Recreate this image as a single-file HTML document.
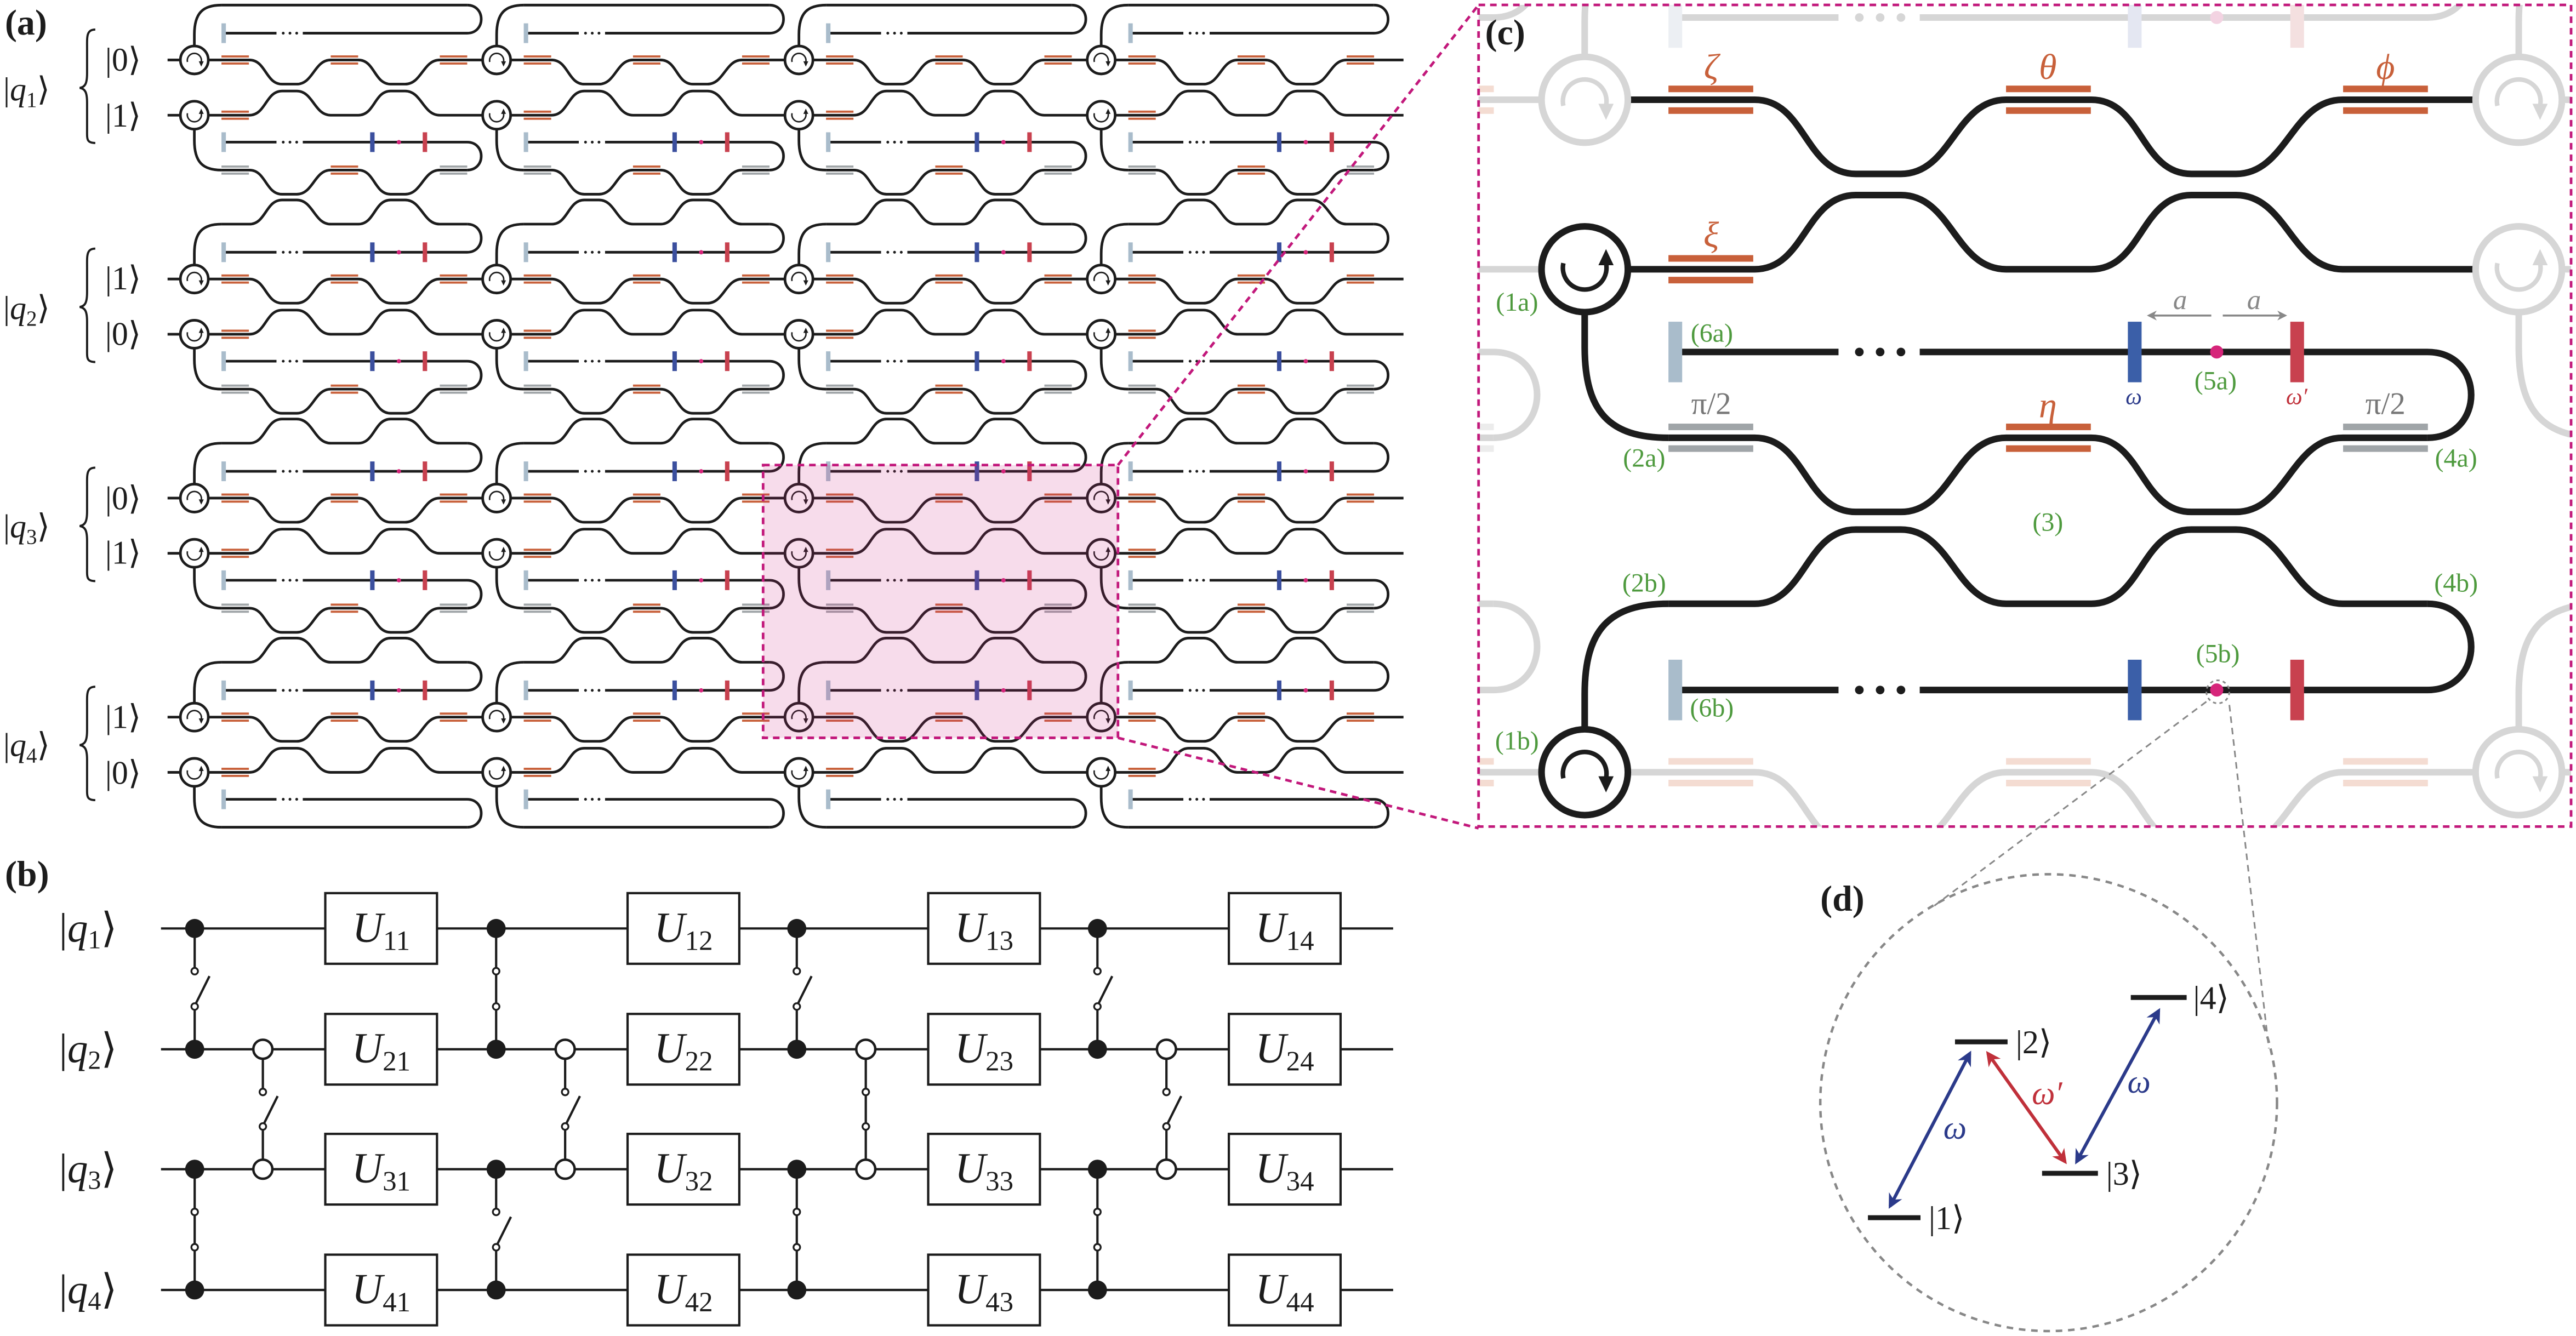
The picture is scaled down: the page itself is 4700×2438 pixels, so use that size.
<!DOCTYPE html>
<html><head><meta charset="utf-8"><style>
html,body{margin:0;padding:0;background:#fff}
svg{display:block}
.ln{fill:none;stroke:var(--ln)}
.or{fill:var(--or)}
.gr{fill:var(--gr)}
.mb{fill:var(--mb)}
.mbl{fill:var(--mbl)}
.mrd{fill:var(--mrd)}
.at{fill:var(--at)}
.dt{fill:var(--ln)}
.ci{fill:#fff;stroke:var(--ln)}
.ah{fill:var(--ln)}
text{font-family:"Liberation Serif","DejaVu Serif",serif}
</style></head><body>
<svg width="4700" height="2438" viewBox="0 0 1568 813" preserveAspectRatio="none" xmlns="http://www.w3.org/2000/svg">
<defs>
<path id="mziF" class="ln" d="M0 0H33.5C43.5 0 43.4 14.7 53.4 14.7H62.3C72.3 14.7 73 0 83 0H99.8C109.8 0 109.5 14.7 119.5 14.7H128.3C138.3 14.7 139.3 0 149.3 0H184"/>
<path id="mziI" class="ln" d="M16.5 0H33.5C43.5 0 43.4 14.7 53.4 14.7H62.3C72.3 14.7 73 0 83 0H99.8C109.8 0 109.5 14.7 119.5 14.7H128.3C138.3 14.7 139.3 0 149.3 0H166"/>
<g id="bO1"><rect class="or" x="16.5" y="-2.8" width="16.7" height="1.3"/><rect class="or" x="16.5" y="1.5" width="16.7" height="1.3"/></g>
<g id="bO2"><rect class="or" x="83" y="-2.8" width="16.7" height="1.3"/><rect class="or" x="83" y="1.5" width="16.7" height="1.3"/></g>
<g id="bO3"><rect class="or" x="149.4" y="-2.8" width="16.7" height="1.3"/><rect class="or" x="149.4" y="1.5" width="16.7" height="1.3"/></g>
<g id="bG1"><rect class="gr" x="16.5" y="-2.8" width="16.7" height="1.3"/><rect class="gr" x="16.5" y="1.5" width="16.7" height="1.3"/></g>
<g id="bG3"><rect class="gr" x="149.4" y="-2.8" width="16.7" height="1.3"/><rect class="gr" x="149.4" y="1.5" width="16.7" height="1.3"/></g>
<g id="row0"><use href="#mziF"/><use href="#bO1"/><use href="#bO2"/><use href="#bO3"/></g>
<g id="row1"><use href="#mziF" transform="translate(0,33.6) scale(1,-1)"/><use href="#bO1" transform="translate(0,33.6)"/></g>
<g id="upL"><path class="ln" d="M0 -8.5V-15.5C0 -28.4 5 -33.4 16.5 -33.4M166 -33.4C177.5 -33.4 177.5 -16.3 166 -16.3H66M50 -16.3H19"/>
<circle class="dt" cx="54.1" cy="-16.3" r=".85"/><circle class="dt" cx="58.2" cy="-16.3" r=".85"/><circle class="dt" cx="62.3" cy="-16.3" r=".85"/>
<rect class="mb" x="16.5" y="-22.3" width="2.7" height="12"/></g>
<g id="loL"><path class="ln" d="M0 42.1V49C0 62 5 67 16.5 67M166 67C177.5 67 177.5 50 166 50H66M50 50H19"/>
<circle class="dt" cx="54.1" cy="50" r=".85"/><circle class="dt" cx="58.2" cy="50" r=".85"/><circle class="dt" cx="62.3" cy="50" r=".85"/>
<rect class="mb" x="16.5" y="44" width="2.7" height="12"/></g>
<path id="topP" class="ln" d="M16.5 -33.4H166"/>
<g id="topB"><use href="#mziI" transform="translate(0,-33.4) scale(1,-1)"/></g>
<path id="grP" class="ln" d="M16.5 67H166"/>
<g id="grB"><use href="#mziI" transform="translate(0,67)"/><use href="#bG1" transform="translate(0,67)"/><use href="#bO2" transform="translate(0,67)"/><use href="#bG3" transform="translate(0,67)"/></g>
<g id="cavT"><rect class="mbl" x="107" y="-22.3" width="2.7" height="12"/><circle class="at" cx="124.5" cy="-16.3" r="1.3"/><rect class="mrd" x="139" y="-22.3" width="2.7" height="12"/></g>
<g id="cavB"><rect class="mbl" x="107" y="44" width="2.7" height="12"/><circle class="at" cx="124.5" cy="50" r="1.3"/><rect class="mrd" x="139" y="44" width="2.7" height="12"/></g>
<g id="c0"><circle class="ci" cx="0" cy="0" r="8.5"/><path class="ln" style="stroke-width:.9" d="M-4.2 1.2A4.3 4.3 0 1 1 4.2 1.2"/><polygon class="ah" points="2.7,0.8 5.7,0.8 4.2,4"/></g>
<g id="c1"><circle class="ci" cx="0" cy="33.6" r="8.5"/><path class="ln" style="stroke-width:.9" d="M-4.2 32.4A4.3 4.3 0 1 0 4.2 32.4"/><polygon class="ah" points="2.7,32.8 5.7,32.8 4.2,29.6"/></g>
<g id="G0"><use href="#row0"/><use href="#row1"/><use href="#upL"/><use href="#loL"/><use href="#topP"/><use href="#grB"/><use href="#cavB"/><use href="#c0"/><use href="#c1"/></g>
<g id="G1"><use href="#row0"/><use href="#row1"/><use href="#upL"/><use href="#loL"/><use href="#topB"/><use href="#grB"/><use href="#cavT"/><use href="#cavB"/><use href="#c0"/><use href="#c1"/></g>
<g id="G3"><use href="#row0"/><use href="#row1"/><use href="#upL"/><use href="#loL"/><use href="#topB"/><use href="#grP"/><use href="#cavT"/><use href="#c0"/><use href="#c1"/></g>
<marker id="mB" viewBox="0 0 10 10" refX="8" refY="5" markerWidth="9" markerHeight="9" markerUnits="userSpaceOnUse" orient="auto-start-reverse"><path d="M0 0L10 5L0 10L3 5z" fill="#2b3a8a"/></marker>
<marker id="mR" viewBox="0 0 10 10" refX="8" refY="5" markerWidth="9" markerHeight="9" markerUnits="userSpaceOnUse" orient="auto-start-reverse"><path d="M0 0L10 5L0 10L3 5z" fill="#c0303a"/></marker>
<marker id="mG" viewBox="0 0 10 10" refX="8" refY="5" markerWidth="6" markerHeight="6" markerUnits="userSpaceOnUse" orient="auto-start-reverse"><path d="M0 0L10 5L0 10L3 5z" fill="#888"/></marker>
<clipPath id="cc"><rect x="900" y="3" width="665" height="500"/></clipPath>
</defs>

<!-- ===== Panel (a) ===== -->
<g style="--ln:#1c1c1c;--or:#c8603a;--gr:#a0a5a8;--mb:#a9bccb;--mbl:#3b4f9e;--mrd:#c8414f;--at:#d6257a;stroke-width:1.6">
<path class="ln" d="M102 36.5H118.3M102 70.1H118.3M102 169.8H118.3M102 203.4H118.3M102 303.1H118.3M102 336.7H118.3M102 436.4H118.3M102 470H118.3"/>
<use href="#G0" transform="translate(118.3,36.5)"/><use href="#G1" transform="translate(118.3,169.8)"/><use href="#G1" transform="translate(118.3,303.1)"/><use href="#G3" transform="translate(118.3,436.4)"/>
<use href="#G0" transform="translate(302.3,36.5)"/><use href="#G1" transform="translate(302.3,169.8)"/><use href="#G1" transform="translate(302.3,303.1)"/><use href="#G3" transform="translate(302.3,436.4)"/>
<use href="#G0" transform="translate(486.3,36.5)"/><use href="#G1" transform="translate(486.3,169.8)"/><use href="#G1" transform="translate(486.3,303.1)"/><use href="#G3" transform="translate(486.3,436.4)"/>
<use href="#G0" transform="translate(670.3,36.5)"/><use href="#G1" transform="translate(670.3,169.8)"/><use href="#G1" transform="translate(670.3,303.1)"/><use href="#G3" transform="translate(670.3,436.4)"/>
</g>
<!-- braces -->
<g fill="none" stroke="#1c1c1c" stroke-width="1.3">
<path transform="translate(0,36.5)" d="M58 -18.5C52.5 -18.5 53 -14 53 -7V8C53 14 52 16.5 48.5 17C52 17.5 53 20 53 26V42C53 48 52.5 50.5 58 50.5"/>
<path transform="translate(0,169.8)" d="M58 -18.5C52.5 -18.5 53 -14 53 -7V8C53 14 52 16.5 48.5 17C52 17.5 53 20 53 26V42C53 48 52.5 50.5 58 50.5"/>
<path transform="translate(0,303.1)" d="M58 -18.5C52.5 -18.5 53 -14 53 -7V8C53 14 52 16.5 48.5 17C52 17.5 53 20 53 26V42C53 48 52.5 50.5 58 50.5"/>
<path transform="translate(0,436.4)" d="M58 -18.5C52.5 -18.5 53 -14 53 -7V8C53 14 52 16.5 48.5 17C52 17.5 53 20 53 26V42C53 48 52.5 50.5 58 50.5"/>
</g>
<g font-size="20" fill="#1c1c1c">
<text x="3" y="21" font-weight="bold" font-size="22">(a)</text>
<text x="64" y="43">|0⟩</text><text x="64" y="77">|1⟩</text>
<text x="64" y="176">|1⟩</text><text x="64" y="210">|0⟩</text>
<text x="64" y="310">|0⟩</text><text x="64" y="343">|1⟩</text>
<text x="64" y="443">|1⟩</text><text x="64" y="477">|0⟩</text>
<text x="2" y="61">|<tspan font-style="italic">q</tspan><tspan font-size="13" dy="4">1</tspan><tspan dy="-4">⟩</tspan></text>
<text x="2" y="194">|<tspan font-style="italic">q</tspan><tspan font-size="13" dy="4">2</tspan><tspan dy="-4">⟩</tspan></text>
<text x="2" y="327">|<tspan font-style="italic">q</tspan><tspan font-size="13" dy="4">3</tspan><tspan dy="-4">⟩</tspan></text>
<text x="2" y="460">|<tspan font-style="italic">q</tspan><tspan font-size="13" dy="4">4</tspan><tspan dy="-4">⟩</tspan></text>
</g>
<!-- pink highlight -->
<rect x="464.5" y="283" width="216" height="166" fill="rgba(205,40,130,0.16)" stroke="#c2187b" stroke-width="1.6" stroke-dasharray="4 3"/>
<path d="M680.5 283L900 3M680.5 449L900 504" stroke="#c2187b" stroke-width="1.6" stroke-dasharray="4 3" fill="none"/>

<!-- ===== Panel (c) ===== -->
<g clip-path="url(#cc)">
<g transform="translate(-538.07,-869.82) scale(3.09,3.07)">
<g style="--ln:#d6d6d6;--or:#f4dcd2;--gr:#ececec;--mb:#eceff3;--mbl:#e4e7f2;--mrd:#f4e0e0;--at:#f3d3e2;stroke-width:1.3">
<use href="#G1" transform="translate(302.3,169.8)"/><use href="#G1" transform="translate(302.3,303.1)"/><use href="#G3" transform="translate(302.3,436.4)"/>
<use href="#G1" transform="translate(486.3,169.8)"/><use href="#G1" transform="translate(486.3,303.1)"/><use href="#G3" transform="translate(486.3,436.4)"/>
<use href="#G1" transform="translate(670.3,169.8)"/><use href="#G1" transform="translate(670.3,303.1)"/><use href="#G3" transform="translate(670.3,436.4)"/>
</g>
<g style="--ln:#1c1c1c;--or:#c8603a;--gr:#a0a5a8;--mb:#a9bccb;--mbl:#3b5fa8;--mrd:#c8414f;--at:#d6257a;stroke-width:1.3">
<g transform="translate(486.3,303.1)"><use href="#row0"/><use href="#row1"/><use href="#loL"/><use href="#grB"/><use href="#cavB"/><use href="#c1"/></g>
<g transform="translate(486.3,436.4)"><use href="#upL"/><use href="#topB"/><use href="#cavT"/><use href="#c0"/></g>
</g>
<g style="--ln:#d6d6d6;stroke-width:1.3">
<use href="#c0" transform="translate(486.3,303.1)"/><use href="#c0" transform="translate(670.3,303.1)"/><use href="#c1" transform="translate(670.3,303.1)"/><use href="#c0" transform="translate(670.3,436.4)"/>
</g>
</g>
</g>
<rect x="900" y="3" width="665" height="500" fill="none" stroke="#c2187b" stroke-width="1.6" stroke-dasharray="4 3"/>
<text x="904" y="27" font-weight="bold" font-size="22" fill="#1c1c1c">(c)</text>
<g font-size="22" font-style="italic" fill="#c8603a" text-anchor="middle">
<text x="1041.6" y="48">ζ</text><text x="1246.5" y="48">θ</text><text x="1452" y="48">ϕ</text>
<text x="1041.6" y="150">ξ</text><text x="1246.5" y="254">η</text>
</g>
<g font-size="19" fill="#777" text-anchor="middle"><text x="1041.6" y="252">π/2</text><text x="1452" y="252">π/2</text></g>
<text x="1298.8" y="246" font-size="14" font-style="italic" fill="#2b3a8a" text-anchor="middle">ω</text>
<text x="1398" y="246" font-size="14" font-style="italic" fill="#c0303a" text-anchor="middle">ω′</text>
<g font-size="17" font-style="italic" fill="#888" text-anchor="middle"><text x="1327" y="188">a</text><text x="1372" y="188">a</text></g>
<path d="M1308 192H1346M1353 192H1391" stroke="#888" stroke-width="1.2" marker-start="url(#mG)" marker-end="url(#mG)" fill="none"/>
<g font-size="16" fill="#4e9a3e" text-anchor="middle">
<text x="923.4" y="189">(1a)</text><text x="1000.8" y="284">(2a)</text><text x="1495" y="284">(4a)</text>
<text x="1246.5" y="323">(3)</text><text x="1000.8" y="360">(2b)</text><text x="1495" y="360">(4b)</text>
<text x="1348.6" y="237">(5a)</text><text x="1350" y="403">(5b)</text>
<text x="1042" y="208">(6a)</text><text x="1042" y="436">(6b)</text><text x="923.4" y="456">(1b)</text>
</g>

<!-- ===== Panel (d) ===== -->
<g fill="none" stroke="#888" stroke-width="1.5">
<circle cx="1247" cy="671" r="139" stroke-dasharray="4 3.5"/>
<circle cx="1350" cy="421" r="7" stroke-width="1" stroke-dasharray="2 2"/>
<path d="M1343 427L1175 553M1357 429L1381 638" stroke-width="1" stroke-dasharray="4 3"/>
</g>
<text x="1108" y="554" font-weight="bold" font-size="22" fill="#1c1c1c">(d)</text>
<g fill="#1c1c1c"><rect x="1137" y="739.5" width="32" height="3"/><rect x="1190" y="632.5" width="32" height="3"/><rect x="1243" y="712.5" width="34" height="3"/><rect x="1297" y="605.5" width="34" height="3"/></g>
<g font-size="20" fill="#1c1c1c"><text x="1174" y="748">|1⟩</text><text x="1227" y="641">|2⟩</text><text x="1282" y="721">|3⟩</text><text x="1335" y="614">|4⟩</text></g>
<path d="M1150.5 734L1199 641" stroke="#2b3a8a" stroke-width="2" marker-start="url(#mB)" marker-end="url(#mB)"/>
<path d="M1264 707L1314 615" stroke="#2b3a8a" stroke-width="2" marker-start="url(#mB)" marker-end="url(#mB)"/>
<path d="M1210 641L1257 707" stroke="#c0303a" stroke-width="2" marker-start="url(#mR)" marker-end="url(#mR)"/>
<g font-size="20" font-style="italic"><text x="1190" y="693" fill="#2b3a8a" text-anchor="middle">ω</text><text x="1246" y="672" fill="#c0303a" text-anchor="middle">ω′</text><text x="1302" y="665" fill="#2b3a8a" text-anchor="middle">ω</text></g>

<!-- ===== Panel (b) ===== -->
<text x="3" y="539" font-weight="bold" font-size="22" fill="#1c1c1c">(b)</text>
<g stroke="#1c1c1c" stroke-width="1.4" fill="none">
<path d="M98 565H848M98 638.5H848M98 711.5H848M98 785H848"/>
<!-- group1 -->
<path d="M118.5 565V589M118.5 614.5V638.5M119.3 610.5L127.5 594M118.5 711.5V785"/>
<path d="M160 638.5V662.5M160 687.5V711.5M160.8 683.5L169 667"/>
<!-- group2 -->
<path d="M302 565V638.5M302 711.5V735.5M302 761V785M302.8 757L311 740.5"/>
<path d="M344 638.5V662.5M344 687.5V711.5M344.8 683.5L353 667"/>
<!-- group3 -->
<path d="M485 565V589M485 614.5V638.5M485.8 610.5L494 594M485 711.5V785"/>
<path d="M527 638.5V711.5"/>
<!-- group4 -->
<path d="M668 565V589M668 614.5V638.5M668.8 610.5L677 594M668 711.5V785"/>
<path d="M710 638.5V662.5M710 687.5V711.5M710.8 683.5L719 667"/>
</g>
<g fill="#fff" stroke="#1c1c1c" stroke-width="1.1">
<circle cx="118.5" cy="591" r="2"/><circle cx="118.5" cy="612.5" r="2"/><circle cx="118.5" cy="737.5" r="2"/><circle cx="118.5" cy="759" r="2"/>
<circle cx="160" cy="664.5" r="2"/><circle cx="160" cy="685.5" r="2"/>
<circle cx="302" cy="591" r="2"/><circle cx="302" cy="612.5" r="2"/><circle cx="302" cy="737.5" r="2"/><circle cx="302" cy="759" r="2"/>
<circle cx="344" cy="664.5" r="2"/><circle cx="344" cy="685.5" r="2"/>
<circle cx="485" cy="591" r="2"/><circle cx="485" cy="612.5" r="2"/><circle cx="485" cy="737.5" r="2"/><circle cx="485" cy="759" r="2"/>
<circle cx="527" cy="664.5" r="2"/><circle cx="527" cy="685.5" r="2"/>
<circle cx="668" cy="591" r="2"/><circle cx="668" cy="612.5" r="2"/><circle cx="668" cy="737.5" r="2"/><circle cx="668" cy="759" r="2"/>
<circle cx="710" cy="664.5" r="2"/><circle cx="710" cy="685.5" r="2"/>
</g>
<g fill="#fff" stroke="#1c1c1c" stroke-width="1.5">
<circle cx="160" cy="638.5" r="5.8"/><circle cx="160" cy="711.5" r="5.8"/>
<circle cx="344" cy="638.5" r="5.8"/><circle cx="344" cy="711.5" r="5.8"/>
<circle cx="527" cy="638.5" r="5.8"/><circle cx="527" cy="711.5" r="5.8"/>
<circle cx="710" cy="638.5" r="5.8"/><circle cx="710" cy="711.5" r="5.8"/>
</g>
<g fill="#1c1c1c">
<circle cx="118.5" cy="565" r="5.8"/><circle cx="118.5" cy="638.5" r="5.8"/><circle cx="118.5" cy="711.5" r="5.8"/><circle cx="118.5" cy="785" r="5.8"/>
<circle cx="302" cy="565" r="5.8"/><circle cx="302" cy="638.5" r="5.8"/><circle cx="302" cy="711.5" r="5.8"/><circle cx="302" cy="785" r="5.8"/>
<circle cx="485" cy="565" r="5.8"/><circle cx="485" cy="638.5" r="5.8"/><circle cx="485" cy="711.5" r="5.8"/><circle cx="485" cy="785" r="5.8"/>
<circle cx="668" cy="565" r="5.8"/><circle cx="668" cy="638.5" r="5.8"/><circle cx="668" cy="711.5" r="5.8"/><circle cx="668" cy="785" r="5.8"/>
</g>
<g fill="#fff" stroke="#1c1c1c" stroke-width="1.4">
<rect x="198" y="543.5" width="68" height="43"/><rect x="382" y="543.5" width="68" height="43"/><rect x="565" y="543.5" width="68" height="43"/><rect x="748" y="543.5" width="68" height="43"/>
<rect x="198" y="617" width="68" height="43"/><rect x="382" y="617" width="68" height="43"/><rect x="565" y="617" width="68" height="43"/><rect x="748" y="617" width="68" height="43"/>
<rect x="198" y="690" width="68" height="43"/><rect x="382" y="690" width="68" height="43"/><rect x="565" y="690" width="68" height="43"/><rect x="748" y="690" width="68" height="43"/>
<rect x="198" y="763.5" width="68" height="43"/><rect x="382" y="763.5" width="68" height="43"/><rect x="565" y="763.5" width="68" height="43"/><rect x="748" y="763.5" width="68" height="43"/>
</g>
<g font-size="26" fill="#1c1c1c" text-anchor="middle">
<text x="232" y="573"><tspan font-style="italic">U</tspan><tspan font-size="17" dy="5">11</tspan></text>
<text x="416" y="573"><tspan font-style="italic">U</tspan><tspan font-size="17" dy="5">12</tspan></text>
<text x="599" y="573"><tspan font-style="italic">U</tspan><tspan font-size="17" dy="5">13</tspan></text>
<text x="782" y="573"><tspan font-style="italic">U</tspan><tspan font-size="17" dy="5">14</tspan></text>
<text x="232" y="646.5"><tspan font-style="italic">U</tspan><tspan font-size="17" dy="5">21</tspan></text>
<text x="416" y="646.5"><tspan font-style="italic">U</tspan><tspan font-size="17" dy="5">22</tspan></text>
<text x="599" y="646.5"><tspan font-style="italic">U</tspan><tspan font-size="17" dy="5">23</tspan></text>
<text x="782" y="646.5"><tspan font-style="italic">U</tspan><tspan font-size="17" dy="5">24</tspan></text>
<text x="232" y="719.5"><tspan font-style="italic">U</tspan><tspan font-size="17" dy="5">31</tspan></text>
<text x="416" y="719.5"><tspan font-style="italic">U</tspan><tspan font-size="17" dy="5">32</tspan></text>
<text x="599" y="719.5"><tspan font-style="italic">U</tspan><tspan font-size="17" dy="5">33</tspan></text>
<text x="782" y="719.5"><tspan font-style="italic">U</tspan><tspan font-size="17" dy="5">34</tspan></text>
<text x="232" y="793"><tspan font-style="italic">U</tspan><tspan font-size="17" dy="5">41</tspan></text>
<text x="416" y="793"><tspan font-style="italic">U</tspan><tspan font-size="17" dy="5">42</tspan></text>
<text x="599" y="793"><tspan font-style="italic">U</tspan><tspan font-size="17" dy="5">43</tspan></text>
<text x="782" y="793"><tspan font-style="italic">U</tspan><tspan font-size="17" dy="5">44</tspan></text>
</g>
<g font-size="25" fill="#1c1c1c">
<text x="36" y="573">|<tspan font-style="italic">q</tspan><tspan font-size="16" dy="4">1</tspan><tspan dy="-4">⟩</tspan></text>
<text x="36" y="646.5">|<tspan font-style="italic">q</tspan><tspan font-size="16" dy="4">2</tspan><tspan dy="-4">⟩</tspan></text>
<text x="36" y="719.5">|<tspan font-style="italic">q</tspan><tspan font-size="16" dy="4">3</tspan><tspan dy="-4">⟩</tspan></text>
<text x="36" y="793">|<tspan font-style="italic">q</tspan><tspan font-size="16" dy="4">4</tspan><tspan dy="-4">⟩</tspan></text>
</g>
</svg>
</body></html>
